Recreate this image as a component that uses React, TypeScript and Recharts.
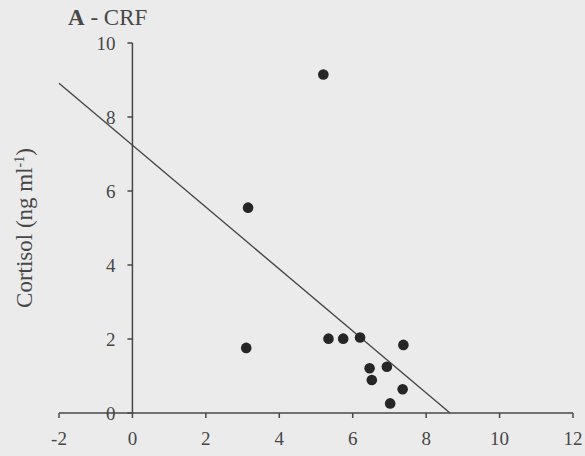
import React from 'react';
import { ScatterChart, Scatter, XAxis, YAxis, ReferenceLine, ReferenceDot } from 'recharts';

const crfX = [5.2, 3.15, 3.1, 5.34, 5.74, 6.2, 7.38, 6.46, 6.93, 6.52, 7.36, 7.02];
const cortisolY = [9.15, 5.55, 1.76, 2.01, 2.01, 2.04, 1.84, 1.21, 1.25, 0.89, 0.64, 0.26];
const xTicks = [-2, 0, 2, 4, 6, 8, 10, 12];
const yTicks = [0, 2, 4, 6, 8, 10];
const regressionX = [-2, 8.65];
const regressionY = [8.91, 0];

const points = crfX.map((x, i) => ({ x, y: cortisolY[i] }));
const regSegment = regressionX.map((x, i) => ({ x, y: regressionY[i] }));

const INK = '#474747';
const FONT = '"Liberation Serif", "DejaVu Serif", serif';

const YTickShape = (props: any) => {
  const { cx, cy, payload } = props;
  return (
    <g>
      <line x1={cx - 5} y1={cy} x2={cx} y2={cy} stroke={INK} strokeWidth={1.5} />
      <text x={cx - 17} y={cy} dy="0.36em" textAnchor="end" fontFamily={FONT} fontSize={19} fill={INK}>
        {payload}
      </text>
    </g>
  );
};

export default function App() {
  return (
    <div style={{ position: 'absolute', left: 0, top: 0, width: 585, height: 456, background: '#ebebeb' }}>
      <ScatterChart width={585} height={456} margin={{ top: 43, right: 12, bottom: 13, left: 59 }}>
        <XAxis
          type="number"
          dataKey="x"
          domain={[-2, 12]}
          ticks={xTicks}
          allowDataOverflow
          height={30}
          tickSize={5}
          tickMargin={14}
          stroke={INK}
          strokeWidth={1.5}
          tick={{ fill: INK, fontFamily: FONT, fontSize: 19 }}
          tickLine={{ stroke: INK }}
        />
        <YAxis type="number" dataKey="y" domain={[0, 10]} ticks={yTicks} hide allowDataOverflow />
        <ReferenceLine
          segment={[{ x: 0, y: 0 }, { x: 0, y: 10 }]}
          stroke={INK}
          strokeWidth={1.5}
          ifOverflow="visible"
        />
        {yTicks.map((t) => (
          <ReferenceDot
            key={t}
            x={0}
            y={t}
            r={0}
            ifOverflow="visible"
            shape={(p: any) => <YTickShape {...p} payload={t} />}
          />
        ))}
        <ReferenceLine segment={regSegment} stroke={INK} strokeWidth={1.4} ifOverflow="visible" />
        <Scatter
          data={points}
          fill="#262626"
          isAnimationActive={false}
          shape={(p: any) => <circle cx={p.cx} cy={p.cy} r={5.3} fill="#262626" />}
        />
      </ScatterChart>
      <svg width={585} height={456} style={{ position: 'absolute', left: 0, top: 0, pointerEvents: 'none' }}>
        <text x={68} y={25} fontFamily={FONT} fontSize={23} fill={INK}>
          <tspan fontWeight="bold">A</tspan>
          <tspan> - CRF</tspan>
        </text>
        <text
          x={0}
          y={0}
          transform="translate(32,228) rotate(-90)"
          textAnchor="middle"
          fontFamily={FONT}
          fontSize={23}
          fill={INK}
        >
          Cortisol (ng ml
          <tspan dy={-8} fontSize={14}>-1</tspan>
          <tspan dy={8}>)</tspan>
        </text>
      </svg>
    </div>
  );
}
